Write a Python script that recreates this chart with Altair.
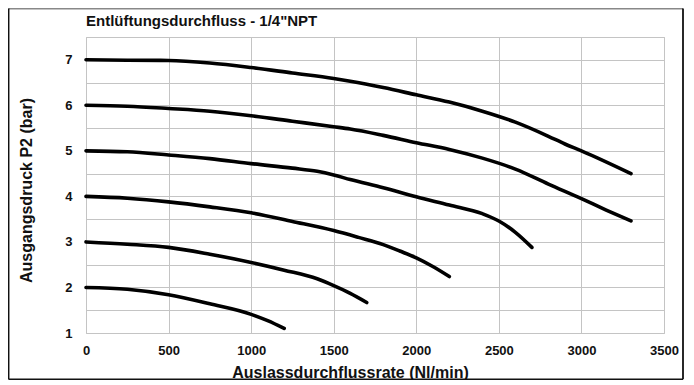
import altair as alt
import pandas as pd

# ---- data ----
title_text = "Entlüftungsdurchfluss - 1/4\"NPT"
x_title = "Auslassdurchflussrate (Nl/min)"
y_title = "Ausgangsdruck P2 (bar)"

x_ticks = [0, 500, 1000, 1500, 2000, 2500, 3000, 3500]
y_grid = [1, 1.5, 2, 2.5, 3, 3.5, 4, 4.5, 5, 5.5, 6, 6.5, 7, 7.5]

c7_x = [0, 250, 500, 750, 1000, 1250, 1500, 1600, 1800, 2000, 2200, 2400, 2600, 2800, 2900, 3000, 3300]
c7_y = [7.0, 6.99, 6.985, 6.93, 6.83, 6.71, 6.59, 6.53, 6.39, 6.23, 6.07, 5.87, 5.63, 5.32, 5.15, 5.0, 4.5]

c6_x = [0, 250, 500, 750, 1000, 1250, 1500, 1600, 1800, 2000, 2200, 2400, 2600, 2800, 3000, 3150, 3300]
c6_y = [6.0, 5.98, 5.93, 5.87, 5.77, 5.65, 5.53, 5.48, 5.34, 5.18, 5.03, 4.84, 4.60, 4.27, 3.95, 3.70, 3.46]

c5_x = [0, 250, 500, 750, 1000, 1250, 1400, 1500, 1600, 1800, 2000, 2200, 2400, 2500, 2600, 2700]
c5_y = [5.0, 4.98, 4.91, 4.83, 4.72, 4.62, 4.55, 4.47, 4.37, 4.19, 3.99, 3.81, 3.62, 3.46, 3.21, 2.88]

c4_x = [0, 250, 500, 750, 1000, 1250, 1500, 1650, 1800, 1900, 2000, 2100, 2200]
c4_y = [4.0, 3.96, 3.88, 3.77, 3.64, 3.45, 3.25, 3.10, 2.94, 2.80, 2.65, 2.46, 2.24]

c3_x = [0, 250, 500, 750, 1000, 1200, 1400, 1500, 1600, 1700]
c3_y = [3.0, 2.95, 2.88, 2.73, 2.55, 2.38, 2.19, 2.04, 1.87, 1.67]

c2_x = [0, 250, 500, 750, 1000, 1100, 1200]
c2_y = [2.0, 1.96, 1.84, 1.64, 1.41, 1.27, 1.10]

curves = {"7": (c7_x, c7_y), "6": (c6_x, c6_y), "5": (c5_x, c5_y),
          "4": (c4_x, c4_y), "3": (c3_x, c3_y), "2": (c2_x, c2_y)}

rows = []
for name, (xs, ys) in curves.items():
    for i, (xv, yv) in enumerate(zip(xs, ys)):
        rows.append({"curve": name, "flow": xv, "p2": yv, "order": i})
df = pd.DataFrame(rows)

FONT = "Liberation Sans"
W, H = 578, 296

lines = alt.Chart(df).mark_line(
    color="black", strokeWidth=3.6, interpolate="monotone", strokeCap="round"
).encode(
    x=alt.X("flow:Q",
            scale=alt.Scale(domain=[0, 3500], nice=False, zero=False),
            axis=alt.Axis(values=x_ticks, format="d", title=x_title, grid=True, ticks=False, domain=False,
                          labelPadding=11, labelFontSize=13, labelFont=FONT, labelFontWeight="bold",
                          labelColor="#111", labelFlush=False,
                          titleFont=FONT, titleFontSize=16, titleFontWeight="bold", titleColor="#111",
                          titleX=264, titleY=44, titleBaseline="alphabetic", titleAlign="center",
                          gridColor="#c4c4c4", gridWidth=1)),
    y=alt.Y("p2:Q",
            scale=alt.Scale(domain=[1, 7.5], nice=False, zero=False),
            axis=alt.Axis(values=y_grid, title=y_title, grid=True, ticks=False, domain=False,
                          labelExpr="datum.value % 1 == 0 && datum.value < 7.5 ? format(datum.value, 'd') : ''",
                          labelPadding=14, labelFontSize=13, labelFont=FONT, labelFontWeight="bold",
                          labelColor="#111", labelFlush=False,
                          titleFont=FONT, titleFontSize=16, titleFontWeight="bold", titleColor="#111",
                          titleX=-55, titleY=153, titleAngle=270, titleBaseline="alphabetic",
                          titleAlign="center",
                          gridColor="#c4c4c4", gridWidth=1)),
    detail="curve:N",
    order="order:Q",
)

one = pd.DataFrame({"t": [title_text]})

title = alt.Chart(one).mark_text(
    align="left", baseline="alphabetic", fontSize=15, fontWeight="bold", font=FONT, color="#111"
).encode(x=alt.value(0), y=alt.value(-11), text="t:N")

border_top = alt.Chart(one).mark_rule(color="#888", strokeWidth=1.5).encode(
    x=alt.value(-77.5), x2=alt.value(597), y=alt.value(-28.3))
border_left = alt.Chart(one).mark_rule(color="#111", strokeWidth=1.5).encode(
    x=alt.value(-77.3), y=alt.value(-28.5), y2=alt.value(342.3))
border_right = alt.Chart(one).mark_rule(color="#111", strokeWidth=1.8).encode(
    x=alt.value(597), y=alt.value(-28.5), y2=alt.value(342.3))
border_bottom = alt.Chart(one).mark_rule(color="#111", strokeWidth=1.5).encode(
    x=alt.value(-77.5), x2=alt.value(597), y=alt.value(342.2))

chart = alt.layer(lines, title, border_top, border_left, border_right, border_bottom).properties(
    width=W, height=H,
    autosize=alt.AutoSizeParams(type="none"),
    padding={"left": 78, "top": 29, "right": 22, "bottom": 47},
    background="white",
).configure_view(stroke="#c4c4c4", strokeWidth=1)

chart.save("out.html", embed_options={"renderer": "svg", "actions": False})
